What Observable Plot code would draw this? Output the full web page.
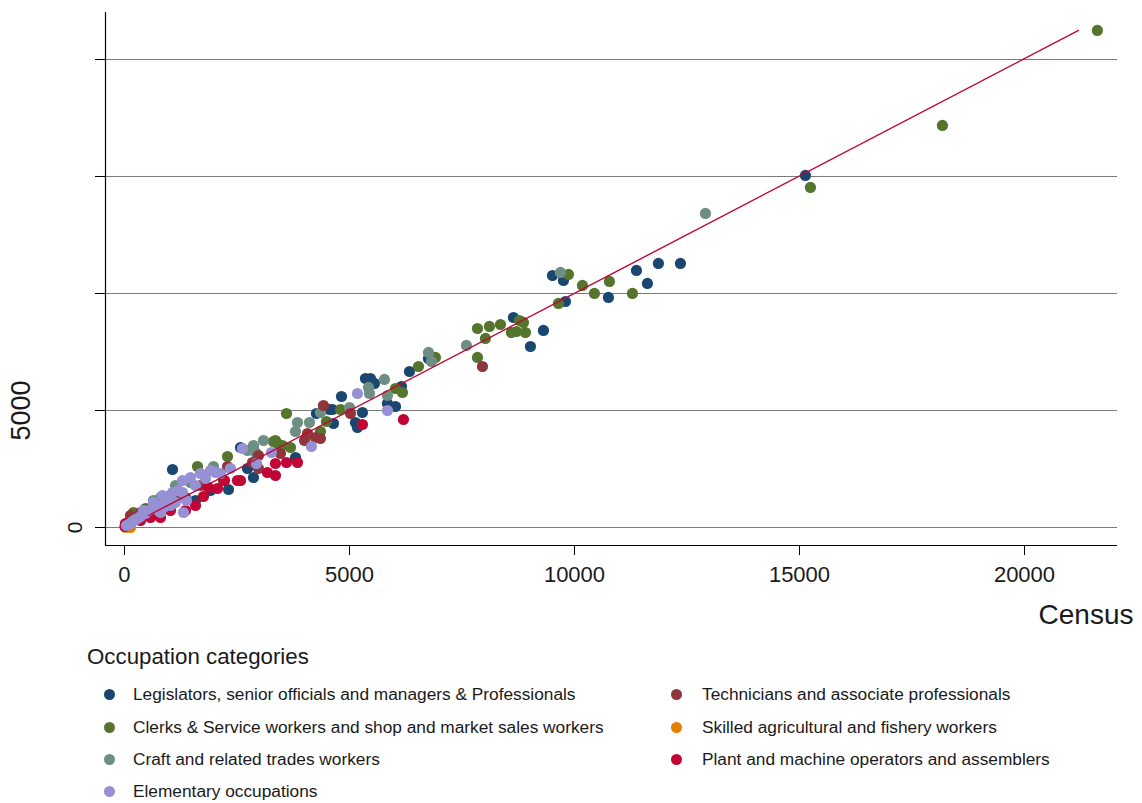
<!DOCTYPE html>
<html><head><meta charset="utf-8">
<script src="https://cdn.jsdelivr.net/npm/d3@7"></script>
<script src="https://cdn.jsdelivr.net/npm/@observablehq/plot@0.6"></script>
<style>
body{margin:0;background:#fff;font-family:"Liberation Sans",Arial,sans-serif;}
#wrap{position:relative;width:1142px;height:803px;overflow:hidden;}
#chart svg{overflow:visible;}
#legend{position:absolute;left:0;top:640px;width:1142px;height:163px;color:#1a1a1a;}
#legend .title{position:absolute;left:87px;top:4px;font-size:22.3px;}
#legend .item{position:absolute;font-size:17.3px;white-space:nowrap;line-height:20px;}
#legend .dot{position:absolute;width:11px;height:11px;border-radius:50%;}
</style></head><body>
<div id="wrap"><div id="chart"></div><div id="legend"></div></div>
<script>
// Occupation categories (legend order)
const categories = [
  "Legislators, senior officials and managers & Professionals",
  "Clerks & Service workers and shop and market sales workers",
  "Craft and related trades workers",
  "Elementary occupations",
  "Technicians and associate professionals",
  "Skilled agricultural and fishery workers",
  "Plant and machine operators and assemblers"
];
const colors = ["#1a476f","#55752f","#6e8e84","#9690d4","#90353b","#e37e00","#c10534"];

// Census (x) and survey (y) values per category
const legCensus = [15132,12354,11865,11377,11621,10754,9510,9755,9799,8644,9310,9021,6755,6333,5355,5466,5555,4822,6155,5844,6022,4622,5288,5133,5177,4644,4266,4555,2866,2733,1067,2311,1578,2578,356,800,1355,578,1911,3800];
const legSurvey = [15044,11283,11283,10984,10429,9830,10770,10557,9659,8975,8420,7736,7223,6667,6368,6368,6155,5599,6026,5300,5172,5043,4915,4488,4274,4445,4872,5043,2137,2522,2479,1624,1154,3419,513,940,1282,641,1581,2992];

const clkCensus = [21620,18176,15243,10777,11288,10443,10177,9866,9643,8777,8866,8599,8710,8910,8355,8110,7844,8021,7844,6910,6533,6022,6177,4800,3600,4488,4355,3311,3400,3689,2289,1622,3355,3511,200,89,467,1022];
const clkSurvey = [21242,17181,14532,10514,10001,10001,10343,10813,9574,8847,8762,8334,8377,8334,8676,8591,8505,8078,7266,7266,6881,5941,5770,5043,4872,4530,4103,3676,3590,3419,3035,2607,3718,3505,641,214,812,1368];

const crfCensus = [12910,9688,7599,6755,6822,5777,5422,5444,5844,5000,3844,3800,4111,4355,3089,2866,2911,1978,2733,2866,1133,644,311,800,1467];
const crfSurvey = [13420,10899,7779,7480,7095,6326,5984,5727,5642,5129,4488,4103,4488,4915,3718,3419,3206,2607,3291,3505,1795,1154,513,1282,1923];

const eleCensus = [5177,5844,4155,3266,2622,2933,1911,1289,1467,1689,2133,1311,1378,1133,867,844,644,1067,1289,422,289,133,89,178,244,356,467,533,622,711,756,911,978,1200,1578,1800,2022,2355,44,800,1022];
const eleSurvey = [5727,5000,3462,3206,3376,2735,2436,2009,2137,2308,2308,641,1154,1069,855,1368,1069,1496,1496,727,385,171,128,256,342,470,598,727,812,940,727,1154,1239,1581,1795,2094,2351,2522,85,641,940];

const tecCensus = [7955,4422,5022,4000,4244,4355,4066,2977,2977,2844,3466,2289,2200,133,578,1133,1689,356];
const tecSurvey = [6881,5214,4872,3718,3847,3804,4018,3077,2522,2778,3163,2607,2009,513,812,1368,1795,641];

const agrCensus = [20,44,133,60];
const agrSurvey = [10,43,0,30];

const plaCensus = [6199,5288,3844,3600,3355,3177,3355,2578,2222,2511,2066,1866,1755,800,1355,1022,22,10,356,578,1578];
const plaSurvey = [4616,4402,2778,2778,2735,2351,2222,2009,2009,2009,1667,1710,1325,427,727,727,171,43,299,427,940];

// Fitted line end points (census, survey)
const fitCensus = [533, 21200];
const fitSurvey = [513, 21239];

// tick values
const xTicks = [0, 5000, 10000, 15000, 20000];
const yTicks = [0, 5000, 10000, 15000, 20000];

// draw order (back to front)
const drawOrder = [0,1,2,4,5,6,3];
const seriesX = [legCensus, clkCensus, crfCensus, eleCensus, tecCensus, agrCensus, plaCensus];
const seriesY = [legSurvey, clkSurvey, crfSurvey, eleSurvey, tecSurvey, agrSurvey, plaSurvey];

const rows = [];
for (const i of drawOrder) {
  seriesX[i].forEach((c, j) => rows.push({cat: categories[i], census: c, survey: seriesY[i][j]}));
}
const fit = fitCensus.map((c, j) => ({census: c, survey: fitSurvey[j]}));

const font = '"Liberation Sans", Arial, sans-serif';
const chart = Plot.plot({
  width: 1142,
  height: 640,
  marginLeft: 105,
  marginRight: 25,
  marginTop: 12,
  marginBottom: 95,
  style: {fontFamily: font, background: "#fff", color: "#1a1a1a"},
  x: {domain: [-422, 22067]},
  y: {domain: [-769, 22008]},
  color: {domain: categories, range: colors},
  marks: [
    Plot.gridY(yTicks, {stroke: "#7a7a7a", strokeOpacity: 1, strokeWidth: 1}),
    Plot.ruleX([-422], {stroke: "#000", strokeWidth: 1.2}),
    Plot.ruleY([-769], {stroke: "#000", strokeWidth: 1.2}),
    Plot.axisX(xTicks, {tickSize: 10, tickPadding: 11, fontSize: 22, tickFormat: d => String(d), label: null, stroke: "#000"}),
    Plot.axisY(yTicks, {tickSize: 10, tickFormat: () => "", label: null, stroke: "#000"}),
    Plot.text([0], {y: d => d, text: d => String(d), frameAnchor: "left", dx: -30, rotate: -90, fontSize: 21, textAnchor: "middle", lineAnchor: "middle", fill: "#1a1a1a"}),
    Plot.text([5000], {y: d => d, text: d => String(d), frameAnchor: "left", dx: -84, rotate: -90, fontSize: 27, textAnchor: "middle", lineAnchor: "middle", fill: "#1a1a1a"}),
    Plot.text(["Census"], {frameAnchor: "bottom-right", text: d => d, dx: 16, dy: 70, fontSize: 28, textAnchor: "end", lineAnchor: "middle", fill: "#1a1a1a"}),
    Plot.dot(rows, {x: "census", y: "survey", fill: "cat", r: 5.6, stroke: null}),
    Plot.line(fit, {x: "census", y: "survey", stroke: "#c10534", strokeWidth: 1.4})
  ]
});
document.getElementById("chart").appendChild(chart);

// legend
const legend = document.getElementById("legend");
const t = document.createElement("div");
t.className = "title"; t.textContent = "Occupation categories";
legend.appendChild(t);
const rowY = [54, 87, 119, 151];
const colX = [[109, 133], [676, 702]];
categories.forEach((c, i) => {
  const col = i < 4 ? 0 : 1;
  const r = i < 4 ? i : i - 4;
  const dot = document.createElement("div");
  dot.className = "dot";
  dot.style.background = colors[i];
  dot.style.left = (colX[col][0] - 5.5) + "px";
  dot.style.top = (rowY[r] - 5.5) + "px";
  legend.appendChild(dot);
  const s = document.createElement("div");
  s.className = "item";
  s.textContent = c;
  s.style.left = colX[col][1] + "px";
  s.style.top = (rowY[r] - 10) + "px";
  legend.appendChild(s);
});
</script>
</body></html>
